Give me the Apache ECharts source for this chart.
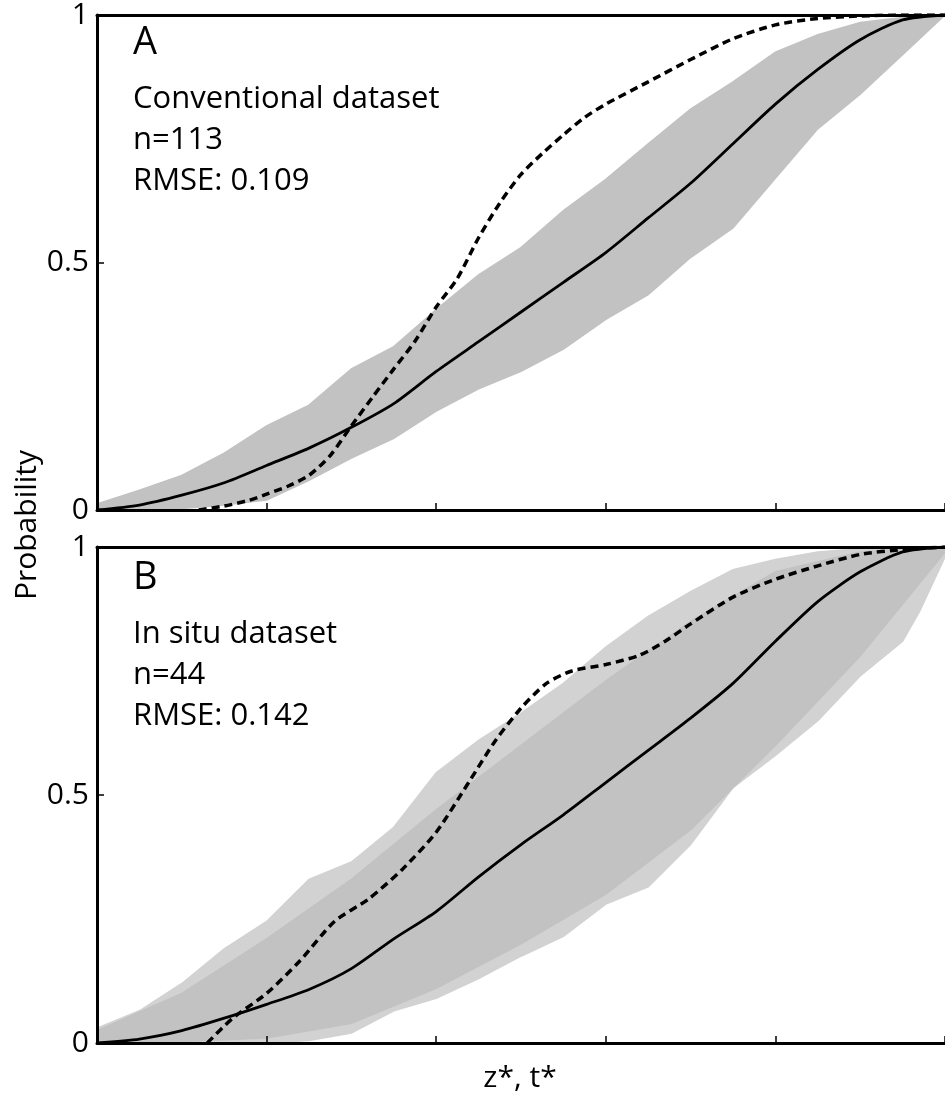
<!DOCTYPE html>
<html>
<head>
<meta charset="utf-8">
<script src="https://cdn.jsdelivr.net/npm/echarts@6/dist/echarts.min.js"></script>
<style>
html,body{margin:0;padding:0;background:#fff;}
#chart{width:945px;height:1105px;}
</style>
</head>
<body>
<div id="chart"></div>
<script>
// ---------- DATA (x = z*/t*, y = probability) ----------
const yTicks = [0, 0.5, 1];
const xTicks = [0, 0.2, 0.4, 0.6, 0.8, 1];

// Panel A – Conventional dataset
const modelA = [[0,0],[0.05,0.01],[0.1,0.03],[0.15,0.055],[0.2,0.09],[0.25,0.125],[0.3,0.167],[0.35,0.215],[0.4,0.28],[0.45,0.34],[0.5,0.4],[0.55,0.46],[0.6,0.52],[0.65,0.59],[0.7,0.66],[0.75,0.74],[0.8,0.82],[0.85,0.89],[0.9,0.95],[0.95,0.99],[1,1]];
const observedA = [[0.12,0],[0.15,0.008],[0.18,0.02],[0.2,0.032],[0.225,0.048],[0.25,0.07],[0.275,0.11],[0.3,0.17],[0.325,0.228],[0.35,0.285],[0.375,0.341],[0.4,0.41],[0.425,0.468],[0.45,0.55],[0.475,0.62],[0.5,0.678],[0.525,0.72],[0.55,0.758],[0.575,0.793],[0.6,0.82],[0.65,0.865],[0.7,0.91],[0.75,0.952],[0.8,0.98],[0.85,0.993],[0.9,0.998],[0.95,1],[1,1]];
const bandUpperA = [[0,0.012],[0.05,0.04],[0.1,0.07],[0.15,0.115],[0.2,0.17],[0.25,0.212],[0.3,0.285],[0.35,0.33],[0.4,0.405],[0.45,0.475],[0.5,0.53],[0.55,0.605],[0.6,0.668],[0.65,0.74],[0.7,0.81],[0.75,0.865],[0.8,0.925],[0.85,0.96],[0.9,0.985],[0.95,0.995],[1,1]];
const bandLowerA = [[0,0],[0.1,0.003],[0.15,0.01],[0.2,0.02],[0.25,0.06],[0.3,0.105],[0.35,0.145],[0.4,0.2],[0.45,0.245],[0.5,0.28],[0.55,0.325],[0.6,0.385],[0.65,0.435],[0.7,0.51],[0.75,0.57],[0.8,0.67],[0.85,0.77],[0.9,0.84],[0.95,0.92],[1,1]];

// Panel B – In situ dataset
const modelB = [[0,0],[0.05,0.008],[0.1,0.025],[0.15,0.05],[0.2,0.078],[0.25,0.108],[0.3,0.15],[0.35,0.21],[0.4,0.265],[0.45,0.335],[0.5,0.4],[0.55,0.46],[0.6,0.525],[0.65,0.59],[0.7,0.655],[0.75,0.725],[0.8,0.81],[0.85,0.89],[0.9,0.95],[0.95,0.99],[1,1]];
const observedB = [[0.13,0],[0.16,0.05],[0.2,0.1],[0.24,0.167],[0.28,0.245],[0.32,0.29],[0.36,0.35],[0.4,0.425],[0.44,0.53],[0.47,0.61],[0.5,0.675],[0.53,0.725],[0.56,0.75],[0.6,0.763],[0.64,0.782],[0.67,0.81],[0.7,0.845],[0.75,0.899],[0.8,0.935],[0.85,0.962],[0.9,0.985],[0.95,0.995],[1,1]];
const bandUpperB = [[0,0.03],[0.05,0.065],[0.1,0.12],[0.15,0.19],[0.2,0.245],[0.25,0.33],[0.3,0.365],[0.35,0.435],[0.4,0.545],[0.45,0.61],[0.5,0.665],[0.55,0.725],[0.6,0.798],[0.65,0.86],[0.7,0.91],[0.75,0.954],[0.8,0.975],[0.85,0.99],[0.9,0.997],[1,1]];
const bandLowerB = [[0,0],[0.2,0],[0.25,0.005],[0.3,0.02],[0.35,0.065],[0.4,0.09],[0.45,0.13],[0.5,0.175],[0.55,0.215],[0.6,0.28],[0.65,0.315],[0.7,0.4],[0.75,0.515],[0.8,0.58],[0.85,0.65],[0.9,0.74],[0.95,0.81],[0.97,0.87],[1,0.98]];
const coreUpperB = [[0,0.025],[0.1,0.1],[0.2,0.21],[0.3,0.33],[0.4,0.47],[0.5,0.6],[0.6,0.73],[0.7,0.85],[0.8,0.95],[0.9,0.99],[1,1]];
const coreLowerB = [[0,0],[0.1,0.003],[0.2,0.01],[0.3,0.04],[0.4,0.11],[0.5,0.2],[0.6,0.3],[0.7,0.43],[0.8,0.6],[0.9,0.78],[1,0.99]];

const panelLabels = ['A', 'B'];
const panelTexts = [['Conventional dataset', 'n=113', 'RMSE: 0.109'], ['In situ dataset', 'n=44', 'RMSE: 0.142']];

// ---------- CHART ----------
const FONT = '"Open Sans", "Noto Sans", sans-serif';
const chart = echarts.init(document.getElementById('chart'), null, {renderer: 'canvas'});

function band(upper, lower, xi, yi, fill, z) {
  return {
    type: 'custom', xAxisIndex: xi, yAxisIndex: yi, z: z, silent: true,
    data: [[0, 0]],
    renderItem: function (params, api) {
      const pts = upper.map(p => api.coord(p)).concat(lower.slice().reverse().map(p => api.coord(p)));
      return {type: 'polygon', shape: {points: pts}, style: {fill: fill, stroke: fill, lineWidth: 1.5}};
    }
  };
}
function curve(data, xi, yi, dashed) {
  return {
    type: 'line', xAxisIndex: xi, yAxisIndex: yi, data: data, showSymbol: false, symbol: 'none',
    smooth: 0.25, z: 5, silent: true,
    lineStyle: dashed ? {color: '#000', width: 3.5, type: [8, 5]} : {color: '#000', width: 2.8}
  };
}
const bottomAxis = (g) => ({
  type: 'value', gridIndex: g, min: 0, max: 1, interval: 0.2, position: 'bottom', z: 10,
  axisLine: {show: true, onZero: false, lineStyle: {color: '#000', width: 3}},
  axisTick: {show: true, inside: true, length: 7, lineStyle: {color: '#000', width: 1.5}},
  axisLabel: {show: false}, splitLine: {show: false}
});
const topAxis = (g) => ({
  type: 'value', gridIndex: g, min: 0, max: 1, position: 'top', z: 10,
  axisLine: {show: true, onZero: false, lineStyle: {color: '#000', width: 3}},
  axisTick: {show: false}, axisLabel: {show: false}, splitLine: {show: false}
});
const leftAxis = (g) => ({
  type: 'value', gridIndex: g, min: 0, max: 1, interval: 0.5, z: 10,
  axisLine: {show: true, onZero: false, lineStyle: {color: '#000', width: 3}},
  axisTick: {show: true, inside: true, length: 7, lineStyle: {color: '#000', width: 1.5}},
  axisLabel: {show: true, margin: 8, color: '#000', fontSize: 30, fontFamily: FONT,
    formatter: v => (yTicks.indexOf(v) >= 0 ? String(v) : '')},
  splitLine: {show: false}
});

const graphics = [];
const baseY = [0, 535];
panelLabels.forEach((lab, i) => {
  graphics.push({type: 'text', left: 133, top: 24 + baseY[i], style: {text: lab, font: '38px ' + FONT, fill: '#000'}});
  panelTexts[i].forEach((t, j) => {
    graphics.push({type: 'text', left: 133, top: 84 + baseY[i] + j * 41, style: {text: t, font: '31px ' + FONT, fill: '#000'}});
  });
});
graphics.push({type: 'text', x: 12, y: 525, rotation: Math.PI / 2, style: {text: 'Probability', font: '30px ' + FONT, fill: '#000', align: 'center', verticalAlign: 'top'}});
graphics.push({type: 'text', x: 520, y: 1078, style: {text: 'z*, t*', font: '30px ' + FONT, fill: '#000', align: 'center', verticalAlign: 'middle'}});

chart.setOption({
  animation: false,
  backgroundColor: '#fff',
  grid: [
    {left: 97, right: 0, top: 12, height: 498, containLabel: false},
    {left: 97, right: 0, top: 547, height: 496, containLabel: false}
  ],
  xAxis: [bottomAxis(0), topAxis(0), bottomAxis(1), topAxis(1)],
  yAxis: [leftAxis(0), leftAxis(1)],
  series: [
    band(bandUpperA, bandLowerA, 0, 0, '#c2c2c2', 2),
    curve(modelA, 0, 0, false),
    curve(observedA, 0, 0, true),
    band(bandUpperB, bandLowerB, 2, 1, '#d2d2d2', 1),
    band(coreUpperB, coreLowerB, 2, 1, '#c2c2c2', 2),
    curve(modelB, 2, 1, false),
    curve(observedB, 2, 1, true)
  ],
  graphic: graphics
});
</script>
</body>
</html>
